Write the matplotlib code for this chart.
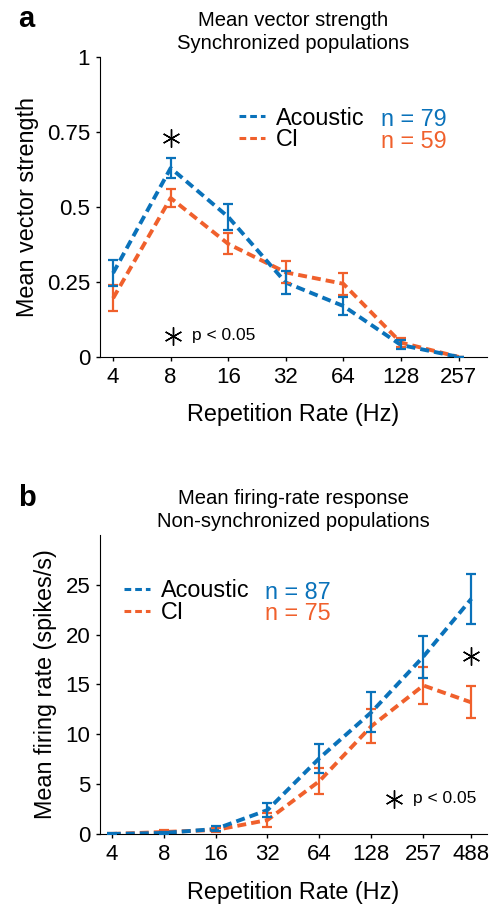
import matplotlib
import numpy as np

matplotlib.use('agg')

import matplotlib.pyplot as plt
from matplotlib.lines import Line2D

plt.rcParams['font.family'] = ['Liberation Sans', 'DejaVu Sans']

BLUE = '#0A72BA'
ORANGE = '#F0602C'

# panel a: mean vector strength, synchronized populations
rates_a = [4, 8, 16, 32, 64, 128, 257]
vs_acoustic = [0.28, 0.63, 0.467, 0.248, 0.17, 0.04, 0.0]
vs_acoustic_err = [0.042, 0.032, 0.044, 0.038, 0.031, 0.015, 0.0]
vs_ci = [0.196, 0.53, 0.377, 0.282, 0.244, 0.048, 0.0]
vs_ci_err = [0.043, 0.03, 0.035, 0.037, 0.037, 0.015, 0.0]
n_a = [79, 59]

# panel b: mean firing rate, non-synchronized populations
rates_b = [4, 8, 16, 32, 64, 128, 257, 488]
fr_acoustic = [0.0, 0.1, 0.5, 2.4, 7.6, 12.2, 17.8, 23.6]
fr_acoustic_err = [0.05, 0.1, 0.25, 0.7, 1.45, 2.0, 2.1, 2.5]
fr_ci = [0.0, 0.2, 0.4, 1.4, 5.3, 10.8, 14.9, 13.2]
fr_ci_err = [0.05, 0.15, 0.2, 0.67, 1.3, 1.7, 1.85, 1.6]
n_b = [87, 75]


def draw_panel(ax, rates, acoustic, acoustic_err, ci, ci_err, ylim, yticks, yticklabels,
               ylabel, title, letter, right_pad, xlabelpad, letter_y):
  for vals, errs, color in ((ci, ci_err, ORANGE), (acoustic, acoustic_err, BLUE)):
    ax.plot(rates, vals, color=color, lw=2.8, dashes=(2.3, 1.3), solid_capstyle='butt', zorder=2)
    ax.errorbar(rates, vals, yerr=errs, fmt='none', ecolor=color, elinewidth=1.6,
                capsize=3.5, capthick=1.6, zorder=3)

  ax.set_xscale('log', base=2)
  ax.set_xlim(rates[0] * 2 ** -0.23, rates[0] * 2 ** (np.log2(rates[-1] / rates[0]) + right_pad))
  ax.set_ylim(*ylim)
  ax.set_xticks(rates, [str(r) for r in rates])
  ax.minorticks_off()
  ax.set_yticks(yticks, yticklabels)
  ax.tick_params(direction='out', length=3, width=1, labelsize=16, pad=4)
  ax.set_ylabel(ylabel, fontsize=16.8, labelpad=6)
  ax.set_xlabel('Repetition Rate (Hz)', fontsize=16.8, labelpad=xlabelpad)
  ax.set_title(title, fontsize=14.6, linespacing=1.25, pad=6)
  for side in ('top', 'right'):
    ax.spines[side].set_visible(False)
  ax.text(-0.212, letter_y, letter, transform=ax.transAxes, fontsize=21, fontweight='bold',
          va='center', ha='left')


fig = plt.figure(figsize=(5.02, 9.06), dpi=100)
ax_a = fig.add_axes([0.199, 0.606, 0.771, 0.331])
ax_b = fig.add_axes([0.199, 0.0795, 0.771, 0.330])

draw_panel(ax_a, rates_a, vs_acoustic, vs_acoustic_err, vs_ci, vs_ci_err,
           (0, 1), [0, 0.25, 0.5, 0.75, 1], ['0', '0.25', '0.5', '0.75', '1'],
           'Mean vector strength', 'Mean vector strength\nSynchronized populations', 'a',
           0.49, 11, 1.128)
draw_panel(ax_b, rates_b, fr_acoustic, fr_acoustic_err, fr_ci, fr_ci_err,
           (0, 30), [0, 5, 10, 15, 20, 25], ['0', '5', '10', '15', '20', '25'],
           'Mean firing rate (spikes/s)', 'Mean firing-rate response\nNon-synchronized populations', 'b',
           0.30, 11.5, 1.125)


def add_legend(ax, x, y, nx, ns):
  handles = [Line2D([], [], color=BLUE, lw=2.2, dashes=(2.2, 1.3)),
             Line2D([], [], color=ORANGE, lw=2.2, dashes=(2.2, 1.3))]
  ax.legend(handles, ['Acoustic', 'CI'], loc='upper left', bbox_to_anchor=(x, y), frameon=False,
            fontsize=16.8, handlelength=1.1, handletextpad=0.5, labelspacing=-0.05,
            borderpad=0, borderaxespad=0)
  ax.text(nx, y - 0.005, f'n = {ns[0]}', transform=ax.transAxes, color=BLUE, fontsize=16.8, va='top')
  ax.text(nx, y - 0.077, f'n = {ns[1]}', transform=ax.transAxes, color=ORANGE, fontsize=16.8, va='top')

add_legend(ax_a, 0.359, 0.835, 0.726, n_a)
add_legend(ax_b, 0.062, 0.852, 0.426, n_b)

ast = (6, 2, 0)
# significance markers
ax_a.plot([8], [0.73], marker=ast, ms=13, mew=1.0, color='black', ls='none')
ax_a.plot([0.189], [0.07], marker=ast, ms=13, mew=1.0, color='black', ls='none', transform=ax_a.transAxes)
ax_a.text(0.237, 0.07, 'p < 0.05', transform=ax_a.transAxes, fontsize=12.5, va='center')

ax_b.plot([488], [17.9], marker=ast, ms=13, mew=1.0, color='black', ls='none')
ax_b.plot([0.76], [0.117], marker=ast, ms=13, mew=1.0, color='black', ls='none', transform=ax_b.transAxes)
ax_b.text(0.808, 0.117, 'p < 0.05', transform=ax_b.transAxes, fontsize=12.5, va='center')

plt.savefig('out.png', dpi=100)
plt.close()
